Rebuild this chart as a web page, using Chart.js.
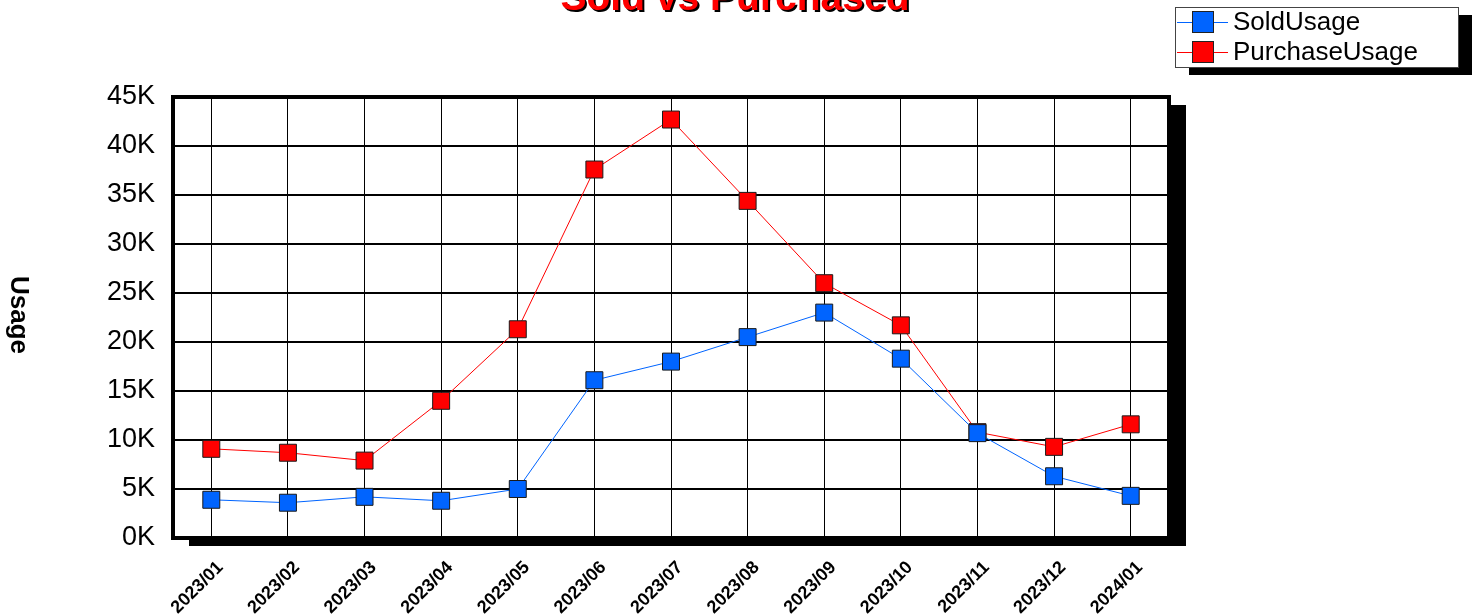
<!DOCTYPE html>
<html lang="en">
<head>
  <meta charset="UTF-8" />
  <title>Sold vs Purchased</title>
  <script src="https://cdn.jsdelivr.net/npm/chart.js"></script>
  <style>
    body { margin: 0; background: #fff; }
    .chart-container { width: 1481px; height: 616px; position: relative; }
  </style>
</head>
<body>
  <div class="chart-container">
    <canvas id="usageChart"></canvas>
  </div>

  <script>
    const months = ['2023/01', '2023/02', '2023/03', '2023/04', '2023/05', '2023/06', '2023/07',
                    '2023/08', '2023/09', '2023/10', '2023/11', '2023/12', '2024/01'];
    const soldUsage = [3900, 3600, 4200, 3800, 5000, 16100, 18000, 20500, 23000, 18300, 10700, 6300, 4300];
    const purchaseUsage = [9100, 8700, 7900, 14000, 21300, 37600, 42700, 34400, 26000, 21700, 10800, 9300, 11600];
    const yTicks = [0, 5000, 10000, 15000, 20000, 25000, 30000, 35000, 40000, 45000];

    const FONT = "'Liberation Sans', Arial, sans-serif";
    const BLUE = '#0064ff';
    const RED = '#ff0000';

    // shadow behind plot, title, y title and legend box
    const decorations = {
      id: 'decorations',
      beforeDraw(chart) {
        const { ctx, chartArea: a } = chart;
        ctx.save();
        ctx.fillStyle = '#000';
        ctx.fillRect(a.left + 16, a.top + 8, a.right - a.left + 1, a.bottom - a.top);
        ctx.fillStyle = '#fff';
        ctx.fillRect(a.left, a.top, a.right - a.left, a.bottom - a.top);
        ctx.restore();
      },
      afterDraw(chart) {
        const { ctx, chartArea: a } = chart;
        ctx.save();

        // plot frame
        ctx.strokeStyle = '#000';
        ctx.lineWidth = 4;
        ctx.strokeRect(a.left, a.top, a.right - a.left, a.bottom - a.top);

        // title with drop shadow
        ctx.font = 'bold 39px ' + FONT;
        ctx.textAlign = 'center';
        ctx.textBaseline = 'alphabetic';
        ctx.fillStyle = '#000';
        ctx.fillText('Sold vs Purchased', 737, 12);
        ctx.fillStyle = RED;
        ctx.fillText('Sold vs Purchased', 735, 10);

        // y axis title, reads top to bottom
        ctx.save();
        ctx.translate(18, 315);
        ctx.rotate(Math.PI / 2);
        ctx.font = 'bold 26px ' + FONT;
        ctx.fillStyle = '#000';
        ctx.textAlign = 'center';
        ctx.textBaseline = 'middle';
        ctx.fillText('Usage', 0, 0);
        ctx.restore();

        // legend box
        const lx = 1175, ly = 7, lw = 283, lh = 60;
        ctx.fillStyle = '#000';
        ctx.fillRect(lx + 14, ly + 8, lw, lh);
        ctx.fillStyle = '#fff';
        ctx.fillRect(lx, ly, lw, lh);
        ctx.strokeStyle = '#444';
        ctx.lineWidth = 1;
        ctx.strokeRect(lx + 0.5, ly + 0.5, lw, lh);

        ctx.font = '26px ' + FONT;
        ctx.textAlign = 'left';
        ctx.textBaseline = 'middle';
        chart.data.datasets.forEach((ds, i) => {
          const cy = 22 + i * 30;
          ctx.strokeStyle = ds.borderColor;
          ctx.beginPath();
          ctx.moveTo(1177, cy + 0.5);
          ctx.lineTo(1228, cy + 0.5);
          ctx.stroke();
          ctx.fillStyle = ds.pointBackgroundColor;
          ctx.fillRect(1192, cy - 11, 22, 22);
          ctx.strokeStyle = '#222';
          ctx.strokeRect(1192.5, cy - 10.5, 21, 21);
          ctx.fillStyle = '#000';
          ctx.fillText(ds.label, 1233, cy + 1);
        });
        ctx.restore();
      }
    };

    new Chart(document.getElementById('usageChart'), {
      type: 'line',
      data: {
        labels: months,
        datasets: [
          {
            label: 'SoldUsage',
            data: soldUsage,
            borderColor: BLUE,
            borderWidth: 1,
            pointStyle: 'rect',
            pointRadius: 12,
            pointBackgroundColor: BLUE,
            pointBorderColor: '#1a1a1a',
            pointBorderWidth: 1,
            tension: 0
          },
          {
            label: 'PurchaseUsage',
            data: purchaseUsage,
            borderColor: RED,
            borderWidth: 1,
            pointStyle: 'rect',
            pointRadius: 12,
            pointBackgroundColor: RED,
            pointBorderColor: '#1a1a1a',
            pointBorderWidth: 1,
            tension: 0
          }
        ]
      },
      options: {
        responsive: true,
        maintainAspectRatio: false,
        animation: false,
        layout: { padding: { left: 0, right: 312, top: 97, bottom: 0 } },
        plugins: {
          legend: { display: false },
          title: { display: false },
          tooltip: { enabled: false }
        },
        scales: {
          x: {
            offset: true,
            afterFit(scale) { scale.height = 78; },
            grid: { offset: false, color: '#000', lineWidth: 1, drawTicks: false },
            border: { display: false },
            ticks: {
              color: '#000',
              font: { family: FONT, size: 18, weight: 'bold' },
              minRotation: 45,
              maxRotation: 45,
              labelOffset: 9,
              padding: 19
            }
          },
          y: {
            min: 0,
            max: 45000,
            afterFit(scale) { scale.width = 173; },
            afterBuildTicks(scale) { scale.ticks = yTicks.map(v => ({ value: v })); },
            grid: { color: '#000', lineWidth: 2, drawTicks: false },
            border: { display: false },
            ticks: {
              color: '#000',
              font: { family: FONT, size: 27 },
              padding: 18,
              callback: v => (v / 1000) + 'K'
            }
          }
        }
      },
      plugins: [decorations]
    });
  </script>
</body>
</html>
